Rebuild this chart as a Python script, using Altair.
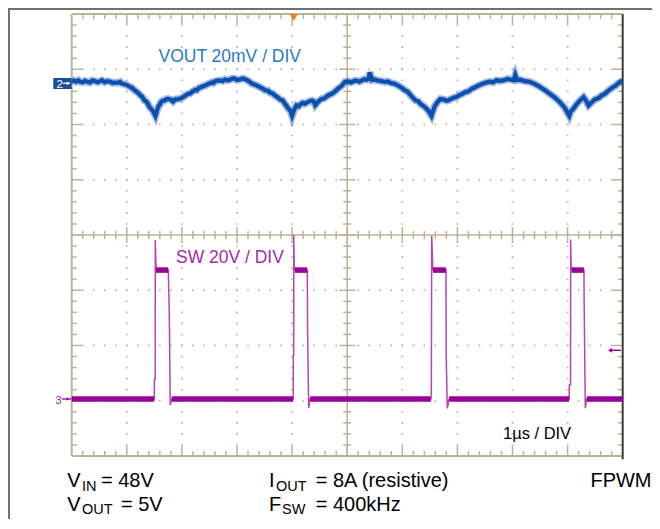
import altair as alt
import numpy as np
import pandas as pd

# ---------------- data ----------------
# VOUT trace: time (µs) and deviation (mV) from the channel-2 reference
vout_t = [0.00, 0.04, 0.08, 0.12, 0.15, 0.20, 0.24, 0.28, 0.33, 0.37, 0.42, 0.47, 0.51,
          0.55, 0.60, 0.65, 0.70, 0.74, 0.78, 0.84, 0.88, 0.91, 0.96,
          1.02, 1.06, 1.10, 1.14, 1.19, 1.24, 1.28, 1.32, 1.35, 1.38, 1.41, 1.44, 1.48,
          1.52, 1.55, 1.57, 1.60, 1.62, 1.65, 1.68, 1.72, 1.75, 1.80, 1.84, 1.88, 1.93,
          1.97, 2.02, 2.08, 2.11, 2.15, 2.18, 2.24, 2.27, 2.30, 2.35, 2.42, 2.48, 2.54,
          2.57, 2.60, 2.65, 2.70, 2.74, 2.78, 2.83, 2.87, 2.92, 2.96, 3.00, 3.05, 3.10,
          3.15, 3.22, 3.27, 3.33, 3.38, 3.45, 3.51, 3.56, 3.60, 3.65, 3.69, 3.74, 3.78,
          3.83, 3.87, 3.93, 3.97, 4.00, 4.04, 4.08, 4.12, 4.15, 4.19, 4.23, 4.27, 4.30,
          4.36, 4.39, 4.42, 4.48, 4.54, 4.58, 4.63, 4.68, 4.72, 4.78, 4.83, 4.90, 4.96,
          5.02, 5.06, 5.09, 5.14, 5.18, 5.22, 5.27, 5.31, 5.35, 5.39, 5.41, 5.45, 5.50,
          5.55, 5.62, 5.69, 5.74, 5.78, 5.87, 5.96, 6.05, 6.10, 6.15, 6.24, 6.29, 6.33,
          6.41, 6.48, 6.53, 6.56, 6.59, 6.64, 6.69, 6.76, 6.80, 6.84, 6.93, 6.98, 7.02,
          7.08, 7.14, 7.20, 7.26, 7.36, 7.45, 7.52, 7.59, 7.65, 7.71, 7.78, 7.86, 7.91,
          7.96, 8.02, 8.05, 8.08, 8.14, 8.20, 8.26, 8.32, 8.41, 8.50, 8.59, 8.68, 8.77,
          8.86, 8.95, 9.03, 9.06, 9.10, 9.17, 9.23, 9.29, 9.34, 9.38, 9.45, 9.49, 9.53,
          9.58, 9.62, 9.67, 9.71, 9.77, 9.83, 9.87, 9.91, 9.96, 10.00]
vout_mv = [0.4, 0.9, 0.5, 1.0, 0.5, 0.3, 0.8, 0.5, 0.2, 0.9, 0.7, 0.3, 0.6,
           1.0, 0.3, 0.7, 0.5, 0.0, 0.2, 0.1, 0.4, -0.2, -0.4,
           -0.9, -1.4, -1.8, -2.6, -3.3, -4.3, -5.0, -6.3, -6.6, -7.4, -8.6, -9.3, -10.3,
           -11.9, -9.8, -8.6, -7.8, -6.9, -6.4, -6.4, -5.8, -5.7, -6.0, -6.7, -5.9, -5.8,
           -5.6, -5.1, -4.3, -3.9, -3.8, -3.2, -2.5, -2.6, -1.9, -1.4, -0.9, -0.3, 0.2,
           0.0, 0.6, 0.9, 1.0, 0.7, 1.3, 1.0, 1.2, 1.7, 1.6, 1.1, 1.3, 1.7,
           1.4, 0.6, -0.2, -0.6, -1.1, -1.8, -2.6, -2.7, -3.5, -3.8, -4.5, -5.2, -5.9,
           -6.3, -7.5, -9.2, -10.0, -11.9, -9.6, -8.1, -8.4, -7.8, -7.2, -7.5, -7.0, -6.7,
           -6.3, -6.6, -8.0, -6.6, -5.7, -5.6, -4.8, -4.2, -3.9, -3.0, -2.1, -1.0, 0.4,
           0.6, 0.2, 0.4, 0.9, 0.8, 0.5, 1.0, 1.4, 1.2, 1.5, 3.9, 1.1, 1.3,
           0.9, 0.7, 0.4, 0.6, 0.1, -0.3, -1.3, -2.6, -3.2, -4.4, -6.3, -6.6, -7.6,
           -8.7, -10.2, -11.9, -10.0, -8.3, -6.9, -5.8, -6.0, -6.4, -6.2, -5.3, -5.1, -4.5,
           -4.0, -3.3, -3.0, -2.1, -1.1, -0.3, 0.2, 0.5, 0.3, 1.0, 0.8, 1.1, 1.5,
           1.3, 1.0, 2.9, 1.1, 1.2, 0.8, 0.6, 0.4, -0.4, -1.4, -2.6, -3.9, -5.3,
           -6.9, -9.0, -11.9, -10.2, -9.4, -7.5, -6.2, -5.1, -6.5, -8.1, -6.8, -6.0, -5.7,
           -5.2, -4.4, -4.0, -3.3, -2.3, -1.4, -1.0, -0.2, 0.3, 1.1]

# SW trace: time (µs) and volts
sw_t = [0.000, 1.499, 1.501, 1.515, 1.517, 1.528, 1.535, 1.753, 1.771, 1.789, 1.815,
        4.020, 4.022, 4.029, 4.031, 4.038, 4.047, 4.276, 4.281, 4.301, 4.325,
        6.520, 6.527, 6.534, 6.552, 6.560, 6.793, 6.796, 6.817, 6.848,
        9.029, 9.031, 9.054, 9.056, 9.064, 9.070, 9.297, 9.300, 9.321, 9.347, 10.000]
sw_v = [0.0, 0.0, 7.2, 7.2, 57.6, 49.3, 46.7, 46.7, 31.2, -2.2, 0.0,
        0.0, 15.9, 15.9, 59.4, 48.5, 46.7, 46.7, 25.0, -3.3, 0.0,
        0.0, 2.2, 59.1, 47.9, 46.7, 46.7, 16.8, -3.4, 0.0,
        0.0, 5.1, 5.1, 57.8, 48.0, 46.7, 46.7, 36.1, -3.3, 0.0, 0.0]

# noisy flat parts of SW (start µs, end µs, level V)
flat_start = [0.000, 1.817, 4.327, 6.850, 9.349, 1.530, 4.050, 6.556, 9.072]
flat_end = [1.497, 4.018, 6.518, 9.027, 10.000, 1.751, 4.274, 6.791, 9.295]
flat_level = [0.0, 0.0, 0.0, 0.0, 0.0, 46.7, 46.7, 46.7, 46.7]

# ---------------- scope geometry ----------------
W, H = 551, 442          # 10 x 8 divisions
PXX, PXY = W / 10.0, H / 8.0
CH2 = 2.75               # channel 2 reference (div)
CH3 = -2.97              # channel 3 reference (div)
VOUT_DIV = 20.0          # mV / div
SW_DIV = 20.0            # V / div

TAN = "#bcb396"
DOT = "#c4bca2"
BLUE = "#0c4fae"
BLUE_TXT = "#2a7cc4"
PURP = "#990099"
PURP_EDGE = "#b446b4"
PURP_TXT = "#a52aa5"
FONT = "Liberation Sans"

xs = alt.Scale(domain=[0, 10], nice=False, zero=False)
ys = alt.Scale(domain=[-4, 4], nice=False, zero=False)


def rules(df, color, width, dash=None, offset=None, cap="butt"):
    kw = dict(color=color, strokeWidth=width, strokeCap=cap)
    if dash is not None:
        kw["strokeDash"] = dash
    if offset is not None:
        kw["strokeDashOffset"] = offset
    return alt.Chart(df).mark_rule(**kw).encode(
        x=alt.X("x:Q", scale=xs, axis=None),
        x2="x2:Q",
        y=alt.Y("y:Q", scale=ys, axis=None),
        y2="y2:Q",
    )


# dotted grid
gv = [1, 2, 3, 4, 6, 7, 8, 9]
gh = [-3, -2, -1, 1, 2, 3]
grid_v = pd.DataFrame({"x": gv, "x2": gv, "y": [-4] * len(gv), "y2": [4] * len(gv)})
grid_h = pd.DataFrame({"x": [0] * len(gh), "x2": [10] * len(gh), "y": gh, "y2": gh})

# ticks
tk = []
for i in range(1, 50):
    xv = round(i * 0.2, 3)
    major = i % 5 == 0
    L = 10 if major else 5
    Lc = 8 if major else 4
    tk.append((xv, xv, 4, 4 - L / PXY))
    tk.append((xv, xv, -4, -4 + L / PXY))
    tk.append((xv, xv, -Lc / PXY, Lc / PXY))
for j in range(1, 40):
    yv = round(-4 + j * 0.2, 3)
    major = j % 5 == 0
    L = 10 if major else 5
    Lc = 8 if major else 4
    tk.append((0, L / PXX, yv, yv))
    tk.append((10, 10 - L / PXX, yv, yv))
    tk.append((5 - Lc / PXX, 5 + Lc / PXX, yv, yv))
ticks = pd.DataFrame(tk, columns=["x", "x2", "y", "y2"])

border_tan = pd.DataFrame({"x": [0, 0, 0], "x2": [0, 10, 10], "y": [-4, 4, -4], "y2": [4, 4, -4]})
border_dark = pd.DataFrame({"x": [10], "x2": [10], "y": [-4.06], "y2": [4]})
center = pd.DataFrame({"x": [5, 0], "x2": [5, 10], "y": [-4, 0], "y2": [4, 0]})

layers = [
    rules(grid_v, DOT, 2, dash=[1.6, PXY / 5 - 1.6], offset=0.8),
    rules(grid_h, DOT, 2, dash=[1.6, PXX / 5 - 1.6], offset=0.8),
    rules(center, TAN, 1.5),
    rules(ticks, TAN, 1.5),
    rules(border_tan, TAN, 2),
    rules(border_dark, "#3b3a32", 2),
]

# VOUT trace: noisy halo + core
vout = pd.DataFrame({"t": vout_t, "mv": vout_mv})
vbase = alt.Chart(vout).transform_calculate(yd=f"{CH2} + datum.mv / {VOUT_DIV}").encode(
    x=alt.X("t:Q", scale=xs, axis=None), y=alt.Y("yd:Q", scale=ys, axis=None))
layers.append(vbase.mark_line(color="#2a64b8", strokeWidth=7.5, opacity=0.45, strokeJoin="miter", clip=True))
layers.append(vbase.mark_line(color=BLUE, strokeWidth=4.2, strokeJoin="miter", clip=True))

# SW trace: thin edges + thick noisy plateaus
sw = pd.DataFrame({"t": sw_t, "v": sw_v})
layers.append(
    alt.Chart(sw).transform_calculate(yd=f"{CH3} + datum.v / {SW_DIV}")
    .mark_line(color=PURP_EDGE, strokeWidth=1.5, clip=True)
    .encode(x=alt.X("t:Q", scale=xs, axis=None), y=alt.Y("yd:Q", scale=ys, axis=None))
)
flat = pd.DataFrame({"x": flat_start, "x2": flat_end, "lv": flat_level})
layers.append(
    alt.Chart(flat).transform_calculate(y=f"{CH3} + datum.lv / {SW_DIV}")
    .mark_rule(color=PURP, strokeWidth=5.5, strokeCap="butt")
    .encode(x=alt.X("x:Q", scale=xs, axis=None), x2="x2:Q", y=alt.Y("y:Q", scale=ys, axis=None))
)

one = pd.DataFrame({"a": [0]})


def txt(s, px, py, size, color="#000000", align="left", baseline="alphabetic", font=FONT):
    return alt.Chart(one).mark_text(
        text=s, fontSize=size, color=color, align=align, baseline=baseline, font=font
    ).encode(x=alt.value(px), y=alt.value(py))


def seg(px1, px2, py, color, width=1.5):
    return alt.Chart(one).mark_rule(color=color, strokeWidth=width).encode(
        x=alt.value(px1), x2=alt.value(px2), y=alt.value(py))


def tri(px, py, shape, color, size):
    return alt.Chart(one).mark_point(shape=shape, filled=True, color=color, size=size, opacity=1).encode(
        x=alt.value(px), y=alt.value(py))


OX, OY = 71.7, 14.0  # page position of plot origin


def P(x, y):
    return x - OX, y - OY


# channel 2 marker
x1, y1 = P(53.3, 78.0)
x2, y2 = P(71.7, 89.0)
layers.append(alt.Chart(one).mark_rect(color="#1b4f9c").encode(
    x=alt.value(x1), x2=alt.value(x2), y=alt.value(y1), y2=alt.value(y2)))
layers.append(txt("2", P(56.5, 0)[0], P(0, 87.5)[1], 11.5, "#ffffff"))
layers.append(seg(P(63, 0)[0], P(70, 0)[0], P(0, 83.3)[1], "#ffffff", 1.3))
layers.append(tri(P(68.5, 0)[0], P(0, 83.3)[1], "triangle-right", "#ffffff", 14))

# channel 3 marker
layers.append(txt("3", P(55.5, 0)[0], P(0, 404.5)[1], 11, PURP_TXT))
layers.append(seg(P(62, 0)[0], P(71, 0)[0], P(0, 399)[1], PURP, 1.3))
layers.append(tri(P(68, 0)[0], P(0, 399)[1], "triangle-right", PURP, 14))

# trigger markers
layers.append(tri(P(293.8, 0)[0], P(0, 17.5)[1], "triangle-down", "#f47a20", 60))
layers.append(seg(P(610, 0)[0], P(621, 0)[0], P(0, 350.3)[1], PURP, 1.5))
layers.append(tri(P(610, 0)[0], P(0, 350.3)[1], "triangle-left", PURP, 22))

# labels inside the graticule
layers.append(txt("VOUT 20mV / DIV", *P(158.5, 61.5), 17.5, BLUE_TXT))
layers.append(txt("SW 20V / DIV", *P(176, 262.5), 17.5, PURP_TXT))
layers.append(txt("1µs / DIV", *P(503, 439), 16.5))

# conditions below the graticule
B1, B2 = 487.5, 511.0
S1, S2 = B1 + 4.0, B2 + 3.0
BS, SS = 20, 14.5
layers += [
    txt("V", *P(67.3, B1), BS), txt("IN", *P(82, S1), SS), txt("= 48V", *P(101, B1), BS),
    txt("V", *P(67.3, B2), BS), txt("OUT", *P(82, S2), SS), txt("= 5V", *P(121, B2), BS),
    txt("I", *P(269, B1), BS), txt("OUT", *P(276, S1), SS), txt("= 8A (resistive)", *P(315.7, B1), BS),
    txt("F", *P(269, B2), BS), txt("SW", *P(282, S2), SS), txt("= 400kHz", *P(315.7, B2), BS),
    txt("FPWM", *P(651.5, B1), BS, align="right"),
]

# outer frame of the figure
layers.append(seg(P(8, 0)[0], P(660, 0)[0], P(0, 9)[1], "#707070", 2))
layers.append(alt.Chart(one).mark_rule(color="#707070", strokeWidth=2).encode(
    x=alt.value(P(9, 0)[0]), y=alt.value(P(0, 8)[1]), y2=alt.value(P(0, 530)[1])))

chart = alt.layer(*layers).properties(
    width=W, height=H,
    padding={"left": OX - 8, "top": OY - 8, "right": 29, "bottom": 63},
    autosize="none",
    background="#ffffff",
).configure_view(stroke=None)

chart.save("out.html", embed_options={"renderer": "svg", "actions": False})
